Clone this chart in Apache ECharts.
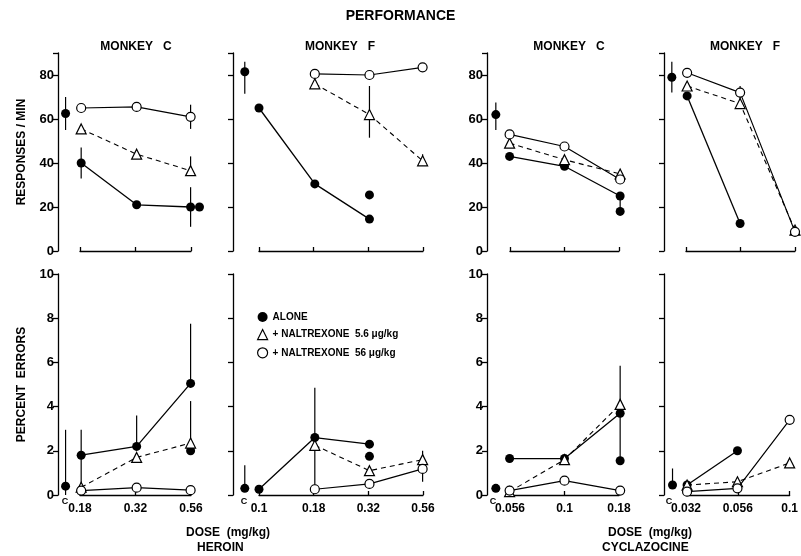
<!DOCTYPE html>
<html>
<head>
<meta charset="utf-8">
<script src="https://cdn.jsdelivr.net/npm/echarts@6/dist/echarts.min.js"></script>
<style>
  html, body { margin: 0; padding: 0; background: #fff; }
  #main { width: 801px; height: 556px; }
</style>
</head>
<body>
<div id="main"></div>
<script>
// ---- data ----
// heroin, monkey C
var heroinC_doses = [0.18, 0.32, 0.56];
var heroinC_rateAlone = [40, 21, 20];
var heroinC_rateNalt5_6 = [55.5, 44, 36.5];
var heroinC_rateNalt56 = [65, 65.5, 61];
var heroinC_rateControl = [62.5, 55, 70];
var heroinC_rateRepeat = [[0.56, 20]];
var heroinC_rateBars = [[0.18, 33, 47], [0.56, 11, 29], [0.56, 36.5, 43], [0.56, 55.5, 66.5]];
var heroinC_errAlone = [1.8, 2.2, 5.05];
var heroinC_errNalt5_6 = [0.35, 1.7, 2.35];
var heroinC_errNalt56 = [0.2, 0.33, 0.22];
var heroinC_errControl = [0.4, 0, 2.95];
var heroinC_errRepeat = [[0.56, 2.0]];
var heroinC_errBars = [[0.18, 0.2, 2.95], [0.32, 2.2, 3.6], [0.56, 5.05, 7.75], [0.56, 2.35, 4.25]];

// heroin, monkey F
var heroinF_doses = [0.1, 0.18, 0.32, 0.56];
var heroinF_rateAlone = [65, 30.5, 14.5, null];
var heroinF_rateNalt5_6 = [null, 76, 62, 41];
var heroinF_rateNalt56 = [null, 80.5, 80, 83.5];
var heroinF_rateControl = [81.5, 71.5, 86];
var heroinF_rateRepeat = [[0.32, 25.5]];
var heroinF_rateBars = [[0.32, 51.5, 75], [0.56, 39, 44]];
var heroinF_errAlone = [0.26, 2.6, 2.3, null];
var heroinF_errNalt5_6 = [null, 2.25, 1.1, 1.6];
var heroinF_errNalt56 = [null, 0.26, 0.5, 1.18];
var heroinF_errControl = [0.3, 0.3, 1.35];
var heroinF_errRepeat = [[0.32, 1.75]];
var heroinF_errBars = [[0.18, 0.26, 4.85], [0.56, 1.6, 2.0], [0.56, 0.6, 1.45]];

// cyclazocine, monkey C
var cyclaC_doses = [0.056, 0.1, 0.18];
var cyclaC_rateAlone = [43, 38.5, 25];
var cyclaC_rateNalt5_6 = [49, 41.5, 35];
var cyclaC_rateNalt56 = [53, 47.5, 32.5];
var cyclaC_rateControl = [62, 55, 67.5];
var cyclaC_rateRepeat = [[0.18, 18]];
var cyclaC_rateBars = [[0.18, 18, 25]];
var cyclaC_errAlone = [1.65, 1.65, 3.7];
var cyclaC_errNalt5_6 = [0.15, 1.6, 4.1];
var cyclaC_errNalt56 = [0.2, 0.65, 0.2];
var cyclaC_errControl = [0.3];
var cyclaC_errRepeat = [[0.18, 1.55]];
var cyclaC_errBars = [[0.18, 1.55, 5.85]];

// cyclazocine, monkey F
var cyclaF_doses = [0.032, 0.056, 0.1];
var cyclaF_rateAlone = [70.5, 12.5, null];
var cyclaF_rateNalt5_6 = [75, 67, 9.5];
var cyclaF_rateNalt56 = [81, 72, 8.7];
var cyclaF_rateControl = [79, 72, 86];
var cyclaF_rateRepeat = [];
var cyclaF_rateBars = [[0.056, 68, 75]];
var cyclaF_errAlone = [0.45, 2.0, null];
var cyclaF_errNalt5_6 = [0.45, 0.6, 1.45];
var cyclaF_errNalt56 = [0.15, 0.3, 3.4];
var cyclaF_errControl = [0.45, 0.45, 1.2];
var cyclaF_errRepeat = [];
var cyclaF_errBars = [];

var seriesNames = ['ALONE', '+ NALTREXONE  5.6 \u03bcg/kg', '+ NALTREXONE  56 \u03bcg/kg'];
var rateTicks = [0, 20, 40, 60, 80];

// ---- layout ----
var FONT = 'Liberation Sans';
var panels = [
  { left: 80, width: 111, yOff: 22, yLabels: true, doses: heroinC_doses,
    rate: [heroinC_rateAlone, heroinC_rateNalt5_6, heroinC_rateNalt56, heroinC_rateControl, heroinC_rateRepeat, heroinC_rateBars],
    err: [heroinC_errAlone, heroinC_errNalt5_6, heroinC_errNalt56, heroinC_errControl, heroinC_errRepeat, heroinC_errBars] },
  { left: 259, width: 164, yOff: 26, yLabels: false, doses: heroinF_doses,
    rate: [heroinF_rateAlone, heroinF_rateNalt5_6, heroinF_rateNalt56, heroinF_rateControl, heroinF_rateRepeat, heroinF_rateBars],
    err: [heroinF_errAlone, heroinF_errNalt5_6, heroinF_errNalt56, heroinF_errControl, heroinF_errRepeat, heroinF_errBars] },
  { left: 510, width: 109, yOff: 23, yLabels: true, doses: cyclaC_doses,
    rate: [cyclaC_rateAlone, cyclaC_rateNalt5_6, cyclaC_rateNalt56, cyclaC_rateControl, cyclaC_rateRepeat, cyclaC_rateBars],
    err: [cyclaC_errAlone, cyclaC_errNalt5_6, cyclaC_errNalt56, cyclaC_errControl, cyclaC_errRepeat, cyclaC_errBars] },
  { left: 686, width: 109, yOff: 22, yLabels: false, doses: cyclaF_doses,
    rate: [cyclaF_rateAlone, cyclaF_rateNalt5_6, cyclaF_rateNalt56, cyclaF_rateControl, cyclaF_rateRepeat, cyclaF_rateBars],
    err: [cyclaF_errAlone, cyclaF_errNalt5_6, cyclaF_errNalt56, cyclaF_errControl, cyclaF_errRepeat, cyclaF_errBars] }
];
var rows = [
  { top: 53, height: 198, max: 90, interval: 20, near: 4, name: 'RESPONSES / MIN' },
  { top: 274, height: 221, max: 10, interval: 2, near: 0.4, name: 'PERCENT  ERRORS' }
];

var L = function (d) { return Math.log10(d); };
var snap = function (d) { return Math.round(4 * L(d)) / 4; };
var CTRL = 0.065;   // control point sits left of the first dose (decades)
var SHIFT = 0.04;   // replicate nudged right when it would hide the mean

var axisStyle = { color: '#000', width: 1.3 };
var txt = { color: '#000', fontFamily: FONT, fontWeight: 'bold' };

var grid = [], xAxis = [], yAxis = [], series = [];

rows.forEach(function (row, r) {
  panels.forEach(function (p, i) {
    var g = r * 4 + i;
    var d = p.doses;
    grid.push({ left: p.left, top: row.top, width: p.width, height: row.height });
    xAxis.push({
      gridIndex: g, type: 'value',
      min: snap(d[0]), max: snap(d[d.length - 1]), interval: 0.25,
      axisLine: { lineStyle: axisStyle },
      axisTick: { inside: true, length: 4, lineStyle: axisStyle },
      axisLabel: {
        show: r === 1, margin: 8, fontSize: 12, color: '#000', fontFamily: FONT, fontWeight: 'bold',
        formatter: function (v) {
          var hit = d.filter(function (x) { return Math.abs(snap(x) - v) < 1e-6; });
          return hit.length ? String(hit[0]) : '';
        }
      },
      splitLine: { show: false }
    });
    var ya = {
      gridIndex: g, type: 'value', min: 0, max: row.max, interval: row.interval,
      offset: p.yOff,
      axisLine: { show: true, lineStyle: axisStyle },
      axisTick: { show: true, length: 5, lineStyle: axisStyle },
      axisLabel: {
        show: p.yLabels, margin: 4, fontSize: 13, color: '#000', fontFamily: FONT, fontWeight: 'bold',
        formatter: function (v) { return (r === 0 && rateTicks.indexOf(v) < 0) ? '' : v; }
      },
      splitLine: { show: false }
    };
    if (i === 0) {
      ya.name = row.name;
      ya.nameLocation = 'middle';
      ya.nameRotate = 90;
      ya.nameGap = 30;
      ya.nameTextStyle = { fontSize: 12, color: '#000', fontFamily: FONT, fontWeight: 'bold' };
    }
    yAxis.push(ya);

    var set = r === 0 ? p.rate : p.err;
    var alone = set[0], n5 = set[1], n56 = set[2], ctrl = set[3], reps = set[4], bars = set[5];
    var pts = function (vals) {
      return d.map(function (x, k) { return [L(x), vals[k]]; })
              .filter(function (q) { return q[1] != null; });
    };
    var ctrlX = snap(d[0]) - CTRL;

    // error bars
    var barData = bars.map(function (b) { return [L(b[0]), b[1], b[2]]; });
    if (ctrl.length > 1) barData.push([ctrlX, ctrl[1], ctrl[2]]);
    series.push({
      type: 'custom', xAxisIndex: g, yAxisIndex: g, z: 1, silent: true,
      data: barData,
      encode: { x: 0, y: [1, 2] },
      renderItem: function (params, api) {
        var a = api.coord([api.value(0), api.value(1)]);
        var b = api.coord([api.value(0), api.value(2)]);
        return { type: 'line', shape: { x1: a[0], y1: a[1], x2: b[0], y2: b[1] },
                 style: { stroke: '#000', lineWidth: 1.2 } };
      }
    });

    series.push({
      name: seriesNames[0], type: 'line', xAxisIndex: g, yAxisIndex: g, z: 3, clip: false,
      data: pts(alone), symbol: 'circle', symbolSize: 9,
      itemStyle: { color: '#000' }, lineStyle: { color: '#000', width: 1.3 }
    });
    series.push({
      name: seriesNames[1], type: 'line', xAxisIndex: g, yAxisIndex: g, z: 4, clip: false,
      data: pts(n5), symbol: 'triangle', symbolSize: 10,
      itemStyle: { color: '#fff', borderColor: '#000', borderWidth: 1.2 },
      lineStyle: { color: '#000', width: 1.1, type: [5, 4] }
    });
    series.push({
      name: seriesNames[2], type: 'line', xAxisIndex: g, yAxisIndex: g, z: 5, clip: false,
      data: pts(n56), symbol: 'circle', symbolSize: 9,
      itemStyle: { color: '#fff', borderColor: '#000', borderWidth: 1.2 },
      lineStyle: { color: '#000', width: 1.2 }
    });

    // control and replicate determinations
    var extra = [[ctrlX, ctrl[0]]];
    reps.forEach(function (rp) {
      var k = d.indexOf(rp[0]);
      var mean = k >= 0 ? alone[k] : null;
      var x = L(rp[0]);
      if (mean != null && Math.abs(mean - rp[1]) < row.near) x += SHIFT;
      extra.push([x, rp[1]]);
    });
    series.push({
      name: seriesNames[0], type: 'scatter', xAxisIndex: g, yAxisIndex: g, z: 3, clip: false,
      data: extra, symbol: 'circle', symbolSize: 9, itemStyle: { color: '#000', opacity: 1 }
    });
  });
});

var graphic = [
  { type: 'text', left: 'center', top: 9, style: Object.assign({ text: 'PERFORMANCE', fontSize: 14 }, txt) }
];
var monkeyLabels = [['MONKEY   C', 136], ['MONKEY   F', 340], ['MONKEY   C', 569], ['MONKEY   F', 745]];
monkeyLabels.forEach(function (m) {
  graphic.push({ type: 'text', x: m[1], y: 47,
    style: Object.assign({ text: m[0], fontSize: 12, textAlign: 'center', textVerticalAlign: 'middle' }, txt) });
});
[65, 244, 493, 669].forEach(function (x) {
  graphic.push({ type: 'text', x: x, y: 502,
    style: Object.assign({ text: 'C', fontSize: 9, textAlign: 'center', textVerticalAlign: 'middle' }, txt) });
});
graphic.push({ type: 'text', x: 186, y: 533, style: Object.assign({ text: 'DOSE  (mg/kg)', fontSize: 12, textVerticalAlign: 'middle' }, txt) });
graphic.push({ type: 'text', x: 197, y: 548, style: Object.assign({ text: 'HEROIN', fontSize: 12, textVerticalAlign: 'middle' }, txt) });
graphic.push({ type: 'text', x: 608, y: 533, style: Object.assign({ text: 'DOSE  (mg/kg)', fontSize: 12, textVerticalAlign: 'middle' }, txt) });
graphic.push({ type: 'text', x: 602, y: 548, style: Object.assign({ text: 'CYCLAZOCINE', fontSize: 12, textVerticalAlign: 'middle' }, txt) });

var chart = echarts.init(document.getElementById('main'));
chart.setOption({
  animation: false,
  backgroundColor: '#fff',
  grid: grid,
  xAxis: xAxis,
  yAxis: yAxis,
  legend: {
    left: 252, top: 307, orient: 'vertical', itemGap: 7, itemWidth: 10, itemHeight: 10,
    selectedMode: false,
    textStyle: { fontSize: 10, color: '#000', fontFamily: FONT, fontWeight: 'bold' },
    data: [
      { name: seriesNames[0], icon: 'circle', itemStyle: { color: '#000' } },
      { name: seriesNames[1], icon: 'triangle', itemStyle: { color: '#fff', borderColor: '#000', borderWidth: 1.2 } },
      { name: seriesNames[2], icon: 'circle', itemStyle: { color: '#fff', borderColor: '#000', borderWidth: 1.2 } }
    ]
  },
  graphic: graphic,
  series: series
});
</script>
</body>
</html>
